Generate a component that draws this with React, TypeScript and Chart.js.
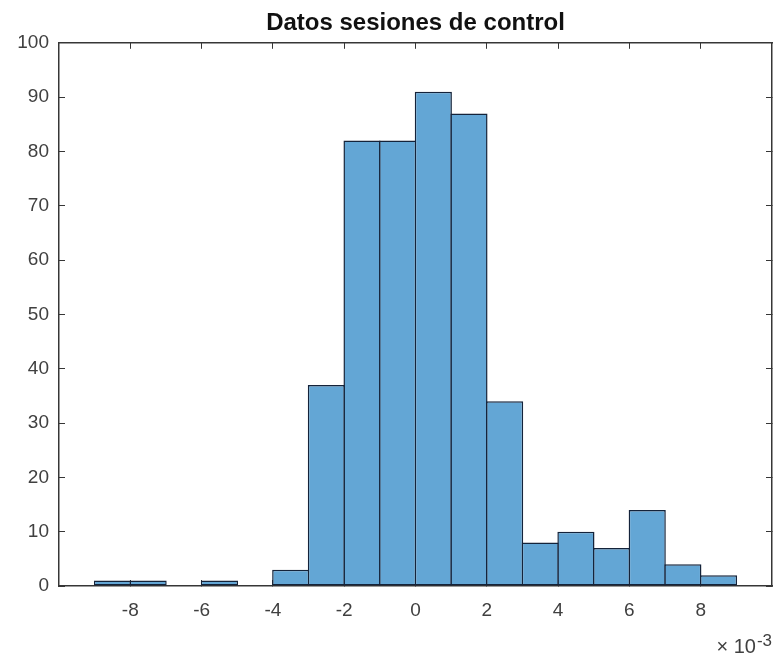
import React, { useEffect, useRef } from 'react';
import { Chart, registerables } from 'chart.js';

Chart.register(...registerables);

// ---- data ----
const binStarts = [-9, -8, -7, -6, -5, -4, -3, -2, -1, 0, 1, 2, 3, 4, 5, 6, 7, 8];
const binWidth = 1;
const counts = [1, 1, 0, 1, 0, 3, 37, 82, 82, 91, 87, 34, 8, 10, 7, 14, 4, 2];
const xMin = -10;
const xMax = 10;
const xStep = 2;
const yMin = 0;
const yMax = 100;
const yStep = 10;
const titleText = 'Datos sesiones de control';
const exponentBase = '× 10';
const exponentPower = '-3';

// ---- styles ----
const FAMILY = "'Liberation Sans', Arial, Helvetica, sans-serif";
const AXIS_COLOR = '#363636';
const TICK_COLOR = '#404040';
const BAR_FILL = '#63a6d5';
const BAR_EDGE = '#14233a';
const TICK_SIZE = 19;

const hideEdge = (v: any) => (Math.abs(Number(v)) >= xMax ? null : String(v));

const exponentPlugin = {
  id: 'exponentLabel',
  afterDraw(chart: any) {
    const ctx = chart.ctx;
    const xs = chart.scales.x;
    ctx.save();
    ctx.fillStyle = TICK_COLOR;
    ctx.textAlign = 'right';
    ctx.textBaseline = 'alphabetic';
    ctx.font = `17px ${FAMILY}`;
    const supW = ctx.measureText(exponentPower).width;
    ctx.fillText(exponentPower, xs.right, xs.bottom - 8);
    ctx.font = `20px ${FAMILY}`;
    ctx.fillText(exponentBase, xs.right - supW - 1, xs.bottom - 1);
    ctx.restore();
  },
};

export default function App() {
  const ref = useRef<HTMLCanvasElement>(null);

  useEffect(() => {
    const gridOpts = {
      display: true,
      drawOnChartArea: false,
      drawTicks: true,
      tickLength: -6,
      color: AXIS_COLOR,
      lineWidth: 1,
      offset: false,
    };
    const borderOpts = { display: true, color: AXIS_COLOR, width: 1.5 };
    const tickFont = { family: FAMILY, size: TICK_SIZE };

    const chart = new Chart(ref.current as HTMLCanvasElement, {
      type: 'bar',
      data: {
        datasets: [
          {
            data: binStarts.map((s, i) => ({ x: s + binWidth / 2, y: counts[i] })),
            backgroundColor: BAR_FILL,
            borderColor: BAR_EDGE,
            borderWidth: 1.5,
            borderSkipped: false,
            barPercentage: 1.042,
            categoryPercentage: 1,
            inflateAmount: 0,
            xAxisID: 'x',
            yAxisID: 'y',
          } as any,
        ],
      },
      options: {
        animation: false,
        responsive: false,
        devicePixelRatio: 1,
        layout: { padding: { left: 0, right: 5, top: 0, bottom: 0 } },
        plugins: {
          legend: { display: false },
          tooltip: { enabled: false },
          title: {
            display: true,
            text: titleText,
            fullSize: false,
            color: '#111111',
            font: { family: FAMILY, size: 24, weight: 'bold' },
            padding: { top: 9, bottom: 5 },
          },
        },
        scales: {
          x: {
            type: 'linear',
            position: 'bottom',
            min: xMin,
            max: xMax,
            offset: false,
            grid: gridOpts,
            border: borderOpts,
            ticks: {
              stepSize: xStep,
              callback: hideEdge,
              font: tickFont,
              color: TICK_COLOR,
              padding: 19,
              maxRotation: 0,
              autoSkip: false,
            },
            afterFit: (s: any) => {
              s.height = 68;
            },
          },
          x2: {
            type: 'linear',
            position: 'top',
            min: xMin,
            max: xMax,
            offset: false,
            grid: gridOpts,
            border: borderOpts,
            ticks: { stepSize: xStep, callback: hideEdge, display: false },
            afterFit: (s: any) => {
              s.height = 0;
            },
          },
          y: {
            type: 'linear',
            position: 'left',
            min: yMin,
            max: yMax,
            grid: gridOpts,
            border: borderOpts,
            ticks: { stepSize: yStep, font: tickFont, color: TICK_COLOR, padding: 16 },
            afterFit: (s: any) => {
              s.width = 59;
            },
          },
          y2: {
            type: 'linear',
            position: 'right',
            min: yMin,
            max: yMax,
            grid: gridOpts,
            border: borderOpts,
            ticks: { stepSize: yStep, display: false },
            afterFit: (s: any) => {
              s.width = 0;
            },
          },
        },
      } as any,
      plugins: [exponentPlugin],
    });
    return () => chart.destroy();
  }, []);

  return (
    <div style={{ position: 'fixed', left: 0, top: 0, width: 777, height: 654, background: '#ffffff' }}>
      <canvas ref={ref} width={777} height={654} style={{ display: 'block', width: 777, height: 654 }} />
    </div>
  );
}
